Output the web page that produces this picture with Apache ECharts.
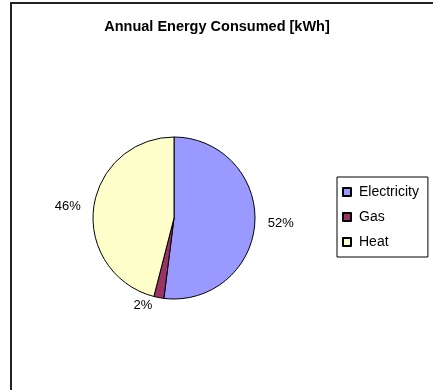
<!DOCTYPE html>
<html><head><meta charset="utf-8">
<script src="https://cdn.jsdelivr.net/npm/echarts@6/dist/echarts.min.js"></script>
<style>html,body{margin:0;padding:0;background:#fff}#c{width:433px;height:390px}</style>
</head><body><div id="c"></div>
<script>
const categories = ["Electricity", "Gas", "Heat"];
const values = [52, 2, 46];
const colors = ["#9999FF", "#993366", "#FFFFCC"];
const titleText = "Annual Energy Consumed [kWh]";

const chart = echarts.init(document.getElementById('c'), null, {renderer: 'canvas'});
chart.setOption({
  animation: false,
  backgroundColor: '#fff',
  title: {
    text: titleText, left: 212, top: 14, textAlign: 'center',
    textStyle: {fontFamily: 'Liberation Sans, Arial', fontSize: 14.5, fontWeight: 'bold', color: '#000'}
  },
  graphic: [{
    type: 'rect', shape: {x: 11, y: 3, width: 460, height: 420},
    style: {fill: 'none', stroke: '#222', lineWidth: 2}, silent: true
  }],
  legend: {
    orient: 'vertical', left: 337, top: 177,
    icon: 'rect', itemWidth: 8, itemHeight: 8, itemGap: 11,
    padding: [8, 9, 8, 5],
    borderColor: '#000', borderWidth: 1,
    textStyle: {fontFamily: 'Liberation Sans, Arial', fontSize: 14, color: '#000', padding: [0, 0, 0, 3]},
    data: categories
  },
  series: [{
    type: 'pie', center: [174, 218], radius: 81,
    startAngle: 90, clockwise: true,
    itemStyle: {borderColor: '#000', borderWidth: 1},
    label: {show: true, position: 'outside', formatter: '{d}%',
      fontFamily: 'Liberation Sans, Arial', fontSize: 13, color: '#000'},
    labelLine: {show: false, length: 8, length2: 0},
    data: categories.map((c, i) => ({name: c, value: values[i], itemStyle: {color: colors[i]}}))
  }]
});
</script></body></html>
